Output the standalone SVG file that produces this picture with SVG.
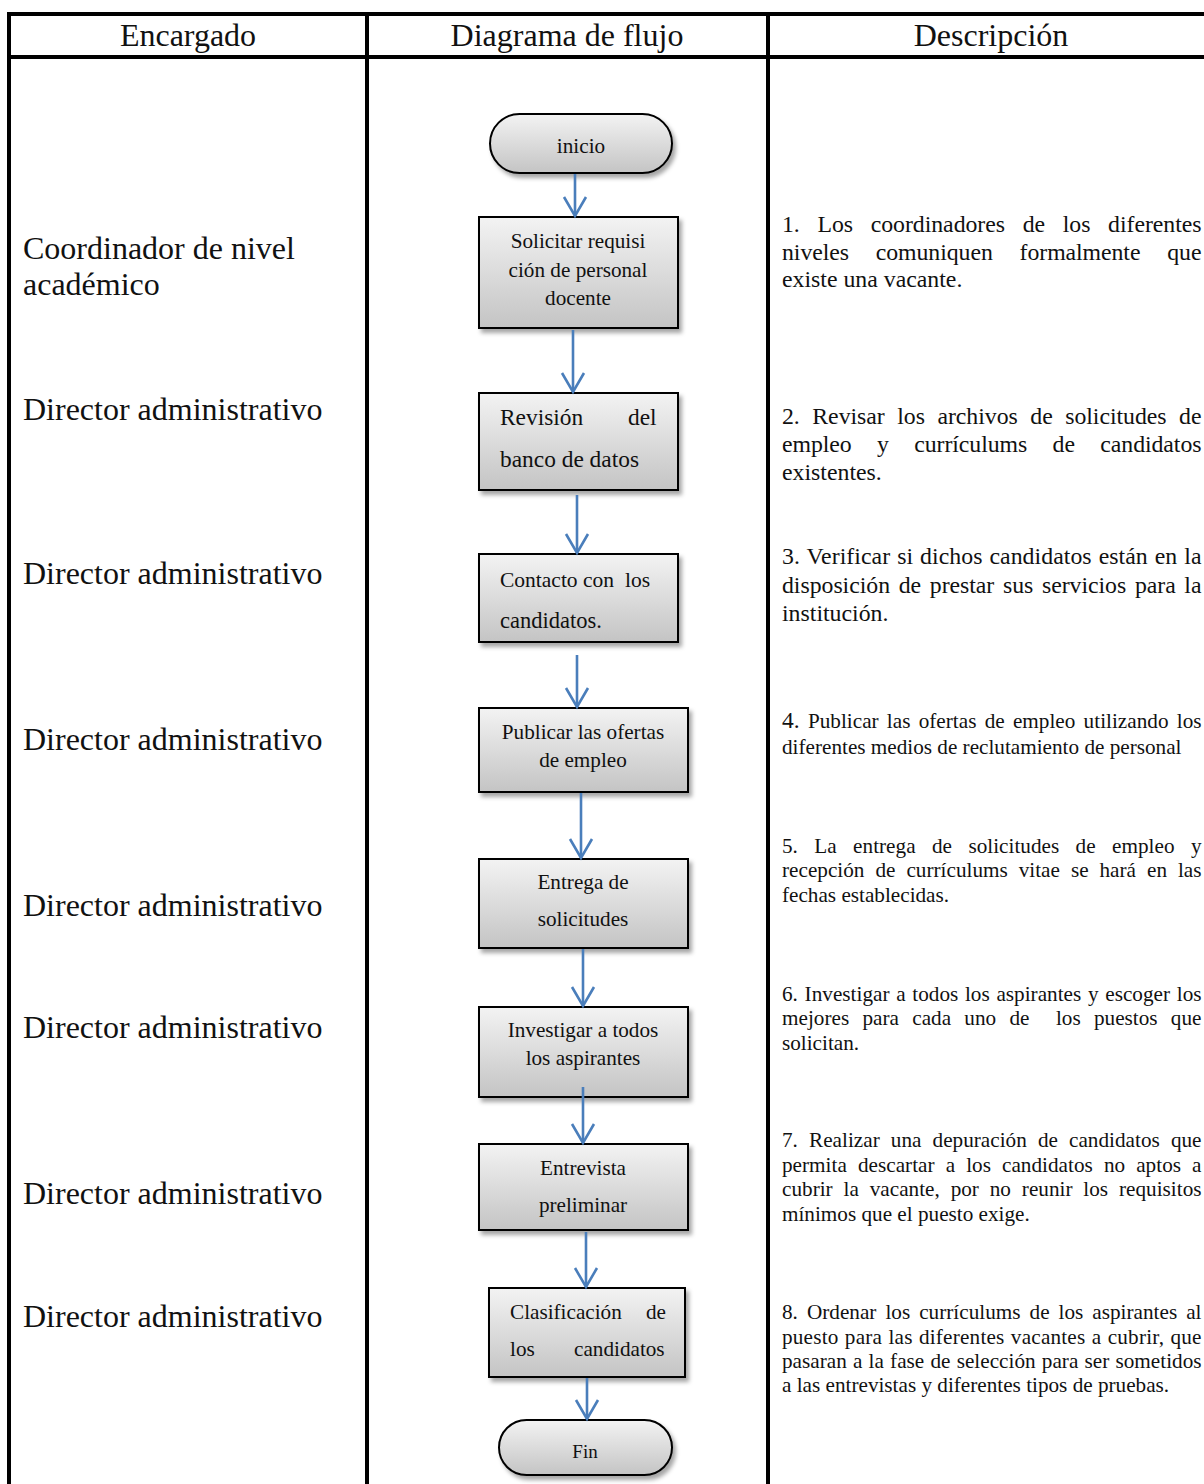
<svg xmlns="http://www.w3.org/2000/svg" width="1204" height="1484" viewBox="0 0 1204 1484">
<defs>
<style>
.t{font-family:"Liberation Serif","Times New Roman",serif;fill:#111}
.hd{font-size:32px;text-anchor:middle}
.lane{font-size:32px}
.bx{font-size:21.2px}
.bxc{font-size:21.2px;text-anchor:middle}
.d1{font-size:23.8px}
.d2{font-size:21.2px}
.grid{stroke:#000;stroke-width:4;fill:none}
.shape{fill:url(#gr);stroke:#000;stroke-width:2;filter:url(#sh)}
.conn{stroke:#4a7ebb;stroke-width:2.6;fill:none;marker-end:url(#ah)}
</style>
<linearGradient id="gr" x1="0" y1="0" x2="0" y2="1">
<stop offset="0" stop-color="#f3f3f3"/>
<stop offset="1" stop-color="#c4c4c4"/>
</linearGradient>
<filter id="sh" x="-10%" y="-10%" width="130%" height="140%">
<feDropShadow dx="3" dy="4" stdDeviation="2" flood-color="#000" flood-opacity="0.35"/>
</filter>
<marker id="ah" markerUnits="userSpaceOnUse" viewBox="-22 -14 26 28" refX="0" refY="0" markerWidth="26" markerHeight="28" orient="auto">
<path d="M-19,-11 L0,0 L-19,11" fill="none" stroke="#4a7ebb" stroke-width="2.6"/>
</marker>
</defs>
<rect x="0" y="0" width="1204" height="1484" fill="#fff"/>

<g id="table">
<line class="grid" x1="7" y1="14" x2="1204" y2="14"/>
<line class="grid" x1="7" y1="57" x2="1204" y2="57"/>
<line class="grid" x1="9" y1="12" x2="9" y2="1484"/>
<line class="grid" x1="367" y1="12" x2="367" y2="1484"/>
<line class="grid" x1="768" y1="12" x2="768" y2="1484"/>
</g>

<g id="headers">
<text class="t hd" x="188" y="46">Encargado</text>
<text class="t hd" x="567" y="46">Diagrama de flujo</text>
<text class="t hd" x="991" y="46">Descripción</text>
</g>

<g id="lanes">
<text class="t lane" x="23" y="259">Coordinador de nivel</text>
<text class="t lane" x="23" y="295">académico</text>
<text class="t lane" x="23" y="420">Director administrativo</text>
<text class="t lane" x="23" y="584">Director administrativo</text>
<text class="t lane" x="23" y="750">Director administrativo</text>
<text class="t lane" x="23" y="916">Director administrativo</text>
<text class="t lane" x="23" y="1038">Director administrativo</text>
<text class="t lane" x="23" y="1204">Director administrativo</text>
<text class="t lane" x="23" y="1327">Director administrativo</text>
</g>

<g id="node-inicio">
<rect class="shape" x="490" y="114" width="182" height="59" rx="29.5" ry="29.5"/>
<text class="t bxc" x="581" y="153">inicio</text>
</g>

<g id="node-1">
<rect class="shape" x="479" y="217" width="199" height="111"/>
<text class="t bxc" x="578" y="248">Solicitar requisi</text>
<text class="t bxc" x="578" y="277">ción de personal</text>
<text class="t bxc" x="578" y="305">docente</text>
</g>

<g id="node-2">
<rect class="shape" x="479" y="393" width="199" height="97"/>
<text class="t" style="font-size:23.4px" x="500" y="425">Revisión</text>
<text class="t" style="font-size:23.4px" x="628" y="425">del</text>
<text class="t" style="font-size:23.4px" x="500" y="467">banco de datos</text>
</g>

<g id="node-3">
<rect class="shape" x="479" y="554" width="199" height="88"/>
<text class="t" style="font-size:21.5px" x="500" y="587">Contacto con</text>
<text class="t" style="font-size:21.5px" x="625" y="587">los</text>
<text class="t" style="font-size:22.5px" x="500" y="628">candidatos.</text>
</g>

<g id="node-4">
<rect class="shape" x="479" y="708" width="209" height="84"/>
<text class="t bxc" x="583" y="739">Publicar las ofertas</text>
<text class="t bxc" x="583" y="767">de empleo</text>
</g>

<g id="node-5">
<rect class="shape" x="479" y="859" width="209" height="89"/>
<text class="t bxc" x="583" y="889">Entrega de</text>
<text class="t bxc" x="583" y="926">solicitudes</text>
</g>

<g id="node-6">
<rect class="shape" x="479" y="1007" width="209" height="90"/>
<text class="t bxc" x="583" y="1037">Investigar a todos</text>
<text class="t bxc" x="583" y="1065">los aspirantes</text>
</g>

<g id="node-7">
<rect class="shape" x="479" y="1144" width="209" height="86"/>
<text class="t bxc" x="583" y="1175">Entrevista</text>
<text class="t bxc" x="583" y="1212">preliminar</text>
</g>

<g id="node-8">
<rect class="shape" x="489" y="1288" width="196" height="89"/>
<text class="t bx" x="510" y="1319">Clasificación</text>
<text class="t bx" x="646" y="1319">de</text>
<text class="t bx" x="510" y="1356">los</text>
<text class="t bx" x="574" y="1356">candidatos</text>
</g>

<g id="node-fin">
<rect class="shape" x="499" y="1420" width="173" height="55" rx="27.5" ry="27.5"/>
<text class="t bxc" style="font-size:19px" x="585" y="1458">Fin</text>
</g>

<g id="connectors">
<line class="conn" x1="575" y1="174" x2="575" y2="216"/>
<line class="conn" x1="573" y1="330" x2="573" y2="392"/>
<line class="conn" x1="577" y1="495" x2="577" y2="553"/>
<line class="conn" x1="577" y1="655" x2="577" y2="707"/>
<line class="conn" x1="581" y1="793" x2="581" y2="858"/>
<line class="conn" x1="583" y1="949" x2="583" y2="1006"/>
<line class="conn" x1="583" y1="1087" x2="583" y2="1143"/>
<line class="conn" x1="586" y1="1232" x2="586" y2="1287"/>
<line class="conn" x1="587" y1="1378" x2="587" y2="1419"/>
</g>

<g id="descriptions">
<text class="t d1" x="782" y="232" style="word-spacing:11.8px" textLength="419.5" lengthAdjust="spacing">1. Los coordinadores de los diferentes</text>
<text class="t d1" x="782" y="260" style="word-spacing:21px" textLength="419.5" lengthAdjust="spacing">niveles comuniquen formalmente que</text>
<text class="t d1" x="782" y="287">existe una vacante.</text>

<text class="t d1" x="782" y="424" style="word-spacing:6.6px" textLength="419.5" lengthAdjust="spacing">2. Revisar los archivos de solicitudes de</text>
<text class="t d1" x="782" y="452" style="word-spacing:19.5px" textLength="419.5" lengthAdjust="spacing">empleo y currículums de candidatos</text>
<text class="t d1" x="782" y="480">existentes.</text>

<text class="t d1" x="782" y="564" style="word-spacing:1px" textLength="419.5" lengthAdjust="spacing">3. Verificar si dichos candidatos están en la</text>
<text class="t d1" x="782" y="593" style="word-spacing:2.8px" textLength="419.5" lengthAdjust="spacing">disposición de prestar sus servicios para la</text>
<text class="t d1" x="782" y="621">institución.</text>

<text class="t d2" x="782" y="728" style="word-spacing:2.92px" textLength="419.5" lengthAdjust="spacing"><tspan style="font-size:23.5px">4.</tspan> Publicar las ofertas de empleo utilizando los</text>
<text class="t d2" x="782" y="754">diferentes medios de reclutamiento de personal</text>

<text class="t d2" x="782" y="853" style="word-spacing:11.07px" textLength="419.5" lengthAdjust="spacing">5. La entrega de solicitudes de empleo y</text>
<text class="t d2" x="782" y="877" style="word-spacing:5.61px" textLength="419.5" lengthAdjust="spacing">recepción de currículums vitae se hará en las</text>
<text class="t d2" x="782" y="902">fechas establecidas.</text>

<text class="t d2" x="782" y="1001" style="word-spacing:1.37px" textLength="419.5" lengthAdjust="spacing">6. Investigar a todos los aspirantes y escoger los</text>
<text class="t d2" x="782" y="1025" style="word-spacing:7.92px" textLength="419.5" lengthAdjust="spacing">mejores para cada uno de&#160; los puestos que</text>
<text class="t d2" x="782" y="1050">solicitan.</text>

<text class="t d2" x="782" y="1147" style="word-spacing:5.76px" textLength="419.5" lengthAdjust="spacing">7. Realizar una depuración de candidatos que</text>
<text class="t d2" x="782" y="1172" style="word-spacing:5.78px" textLength="419.5" lengthAdjust="spacing">permita descartar a los candidatos no aptos a</text>
<text class="t d2" x="782" y="1196" style="word-spacing:5.52px" textLength="419.5" lengthAdjust="spacing">cubrir la vacante, por no reunir los requisitos</text>
<text class="t d2" x="782" y="1221">mínimos que el puesto exige.</text>

<text class="t d2" x="782" y="1319" style="word-spacing:3.67px" textLength="419.5" lengthAdjust="spacing">8. Ordenar los currículums de los aspirantes al</text>
<text class="t d2" x="782" y="1344" style="word-spacing:0.82px" textLength="419.5" lengthAdjust="spacing">puesto para las diferentes vacantes a cubrir, que</text>
<text class="t d2" x="782" y="1368" style="word-spacing:0.86px" textLength="419.5" lengthAdjust="spacing">pasaran a la fase de selección para ser sometidos</text>
<text class="t d2" x="782" y="1392">a las entrevistas y diferentes tipos de pruebas.</text>
</g>
</svg>
